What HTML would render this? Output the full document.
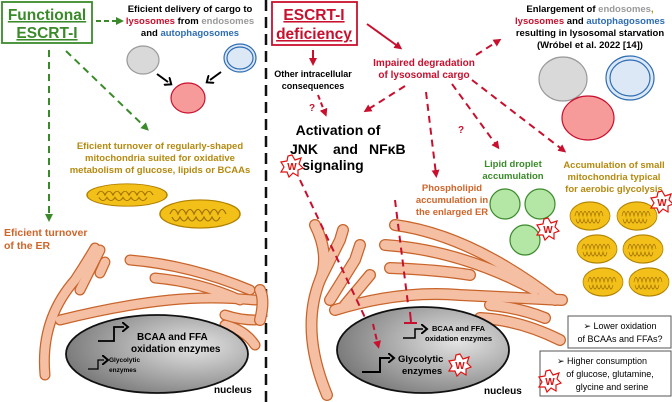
<!DOCTYPE html>
<html><head><meta charset="utf-8"><style>
body{margin:0;background:#fff}
svg{display:block;font-family:"Liberation Sans",sans-serif;font-weight:bold}
</style></head><body>
<svg width="672" height="402" viewBox="0 0 672 402" xmlns="http://www.w3.org/2000/svg">
<defs>
<marker id="ag" markerUnits="userSpaceOnUse" markerWidth="8" markerHeight="8" refX="4" refY="4" orient="auto"><path d="M0,0L8,4L0,8z" fill="#3a8a2a"/></marker>
<marker id="ar" markerUnits="userSpaceOnUse" markerWidth="8" markerHeight="8" refX="4" refY="4" orient="auto"><path d="M0,0L8,4L0,8z" fill="#c8102e"/></marker>
<marker id="ak" markerUnits="userSpaceOnUse" markerWidth="8" markerHeight="8" refX="4" refY="4" orient="auto"><path d="M0,0L8,4L0,8z" fill="#000"/></marker>
<marker id="aks" markerUnits="userSpaceOnUse" markerWidth="10" markerHeight="10" refX="2" refY="5" orient="auto"><path d="M0,0L6,5L0,10" fill="none" stroke="#000" stroke-width="2"/></marker>
<radialGradient id="nuc" cx="0.7" cy="0.4" r="0.8"><stop offset="0" stop-color="#e4e4e4"/><stop offset="1" stop-color="#6e6e6e"/></radialGradient>
<g id="mito"><ellipse cx="0" cy="0" rx="40" ry="18" fill="#f2c018" stroke="#b08000" stroke-width="1.5"/><path d="M-30,0 q4,-12 8,0 q4,-12 8,0 q4,-12 8,0 q4,-12 8,0 q4,-12 8,0 q4,-12 8,0 q4,-12 8,0 M-28,4 q4,10 8,0 q4,10 8,0 q4,10 8,0 q4,10 8,0 q4,10 8,0 q4,10 8,0" fill="none" stroke="#a07000" stroke-width="1.3"/></g>
<g id="w"><polygon points="0,-11 3,-6 9,-8 7,-2 11,2 6,4 6,10 1,7 -3,11 -5,6 -11,6 -8,1 -11,-4 -5,-5 -4,-10" fill="#fff" stroke="#e01010" stroke-width="1.2"/><text x="0" y="4" font-size="10" fill="#e01010" text-anchor="middle">W</text></g>
</defs>

<line x1="266" y1="0" x2="266" y2="402" stroke="#111" stroke-width="2.5" stroke-dasharray="11,6"/>

<!-- Left header -->
<rect x="2" y="2" width="90" height="41" fill="#fff" stroke="#3a8a2a" stroke-width="1.8"/>
<text x="47" y="20" font-size="15.5" fill="#3a8a2a" text-anchor="middle" text-decoration="underline">Functional</text>
<text x="47" y="38" font-size="15.5" fill="#3a8a2a" text-anchor="middle" text-decoration="underline">ESCRT-I</text>
<line x1="96" y1="21" x2="120" y2="21" stroke="#3a8a2a" stroke-width="2" stroke-dasharray="5,3" marker-end="url(#ag)"/>
<g font-size="9.5" text-anchor="middle">
<text x="190" y="12">Eficient delivery of cargo to</text>
<text x="190" y="24"><tspan fill="#c8102e">lysosomes</tspan> from <tspan fill="#999">endosomes</tspan></text>
<text x="190" y="36">and <tspan fill="#2e6db4">autophagosomes</tspan></text>
</g>
<ellipse cx="143" cy="60" rx="16" ry="14" fill="#d9d9d9" stroke="#999" stroke-width="1.2"/>
<ellipse cx="240" cy="58" rx="16" ry="14" fill="#dce8f6" stroke="#2e6db4" stroke-width="1.2"/>
<ellipse cx="240" cy="58" rx="13" ry="11" fill="none" stroke="#2e6db4" stroke-width="1.2"/>
<ellipse cx="188" cy="98" rx="17" ry="15" fill="#f79a9a" stroke="#c8102e" stroke-width="1.2"/>
<line x1="157" y1="74" x2="168" y2="82" stroke="#000" stroke-width="2" marker-end="url(#aks)"/>
<line x1="221" y1="72" x2="210" y2="80" stroke="#000" stroke-width="2" marker-end="url(#aks)"/>
<line x1="66" y1="51" x2="146" y2="128" stroke="#3a8a2a" stroke-width="2" stroke-dasharray="7,5" marker-end="url(#ag)"/>
<line x1="49" y1="50" x2="49" y2="218" stroke="#3a8a2a" stroke-width="2" stroke-dasharray="7,5" marker-end="url(#ag)"/>
<g font-size="9.5" fill="#b58a10" text-anchor="middle">
<text x="160" y="149">Eficient turnover of regularly-shaped</text>
<text x="160" y="161">mitochondria suited for oxidative</text>
<text x="160" y="173">metabolism of glucose, lipids or BCAAs</text>
</g>
<g transform="translate(127,195) scale(1,0.62)"><use href="#mito"/></g>
<g transform="translate(200,214) scale(1,0.78)"><use href="#mito"/></g>
<g font-size="10.5" fill="#d0652a"><text x="4" y="236">Eficient turnover</text><text x="4" y="249">of the ER</text></g>

<!-- Left ER -->
<g fill="none" stroke-linecap="round" stroke-linejoin="round">
<g stroke="#c8642a" stroke-width="11">
<path d="M45,375 Q40,320 75,280 Q85,265 95,248"/><path d="M80,290 L95,260 L100,250"/><path d="M100,273 L105,262"/>
<path d="M60,320 Q120,305 170,300 Q210,296 255,300"/><path d="M130,260 Q190,265 250,290"/><path d="M155,278 Q200,282 240,300"/><path d="M225,325 Q245,330 255,345"/><path d="M225,315 Q240,320 255,320"/>
</g>
<g stroke="#f5bfa3" stroke-width="8.5">
<path d="M45,375 Q40,320 75,280 Q85,265 95,248"/><path d="M80,290 L95,260 L100,250"/><path d="M100,273 L105,262"/>
<path d="M60,320 Q120,305 170,300 Q210,296 255,300"/><path d="M130,260 Q190,265 250,290"/><path d="M155,278 Q200,282 240,300"/><path d="M225,325 Q245,330 255,345"/><path d="M225,315 Q240,320 255,320"/>
</g>
</g>
<ellipse cx="157" cy="354" rx="91" ry="39" fill="url(#nuc)" stroke="#111" stroke-width="1.8"/>
<path d="M98,341 h16 v-14 h10" fill="none" stroke="#000" stroke-width="1.8" marker-end="url(#aks)"/>
<text x="137" y="340" font-size="10">BCAA and FFA</text>
<text x="131" y="352" font-size="10">oxidation enzymes</text>
<path d="M88,369 h10 v-9 h6" fill="none" stroke="#000" stroke-width="1.3" marker-end="url(#aks)"/>
<text x="109" y="362" font-size="6.5">Glycolytic</text>
<text x="109" y="372" font-size="6.5">enzymes</text>
<text x="214" y="393" font-size="10">nucleus</text>

<!-- Right header -->
<rect x="272" y="2" width="85" height="43" fill="#fff" stroke="#c8102e" stroke-width="1.8"/>
<text x="314" y="20" font-size="15.5" fill="#c8102e" text-anchor="middle" text-decoration="underline">ESCRT-I</text>
<text x="314" y="39" font-size="15.5" fill="#c8102e" text-anchor="middle" text-decoration="underline">deficiency</text>
<line x1="313" y1="50" x2="313" y2="62" stroke="#c8102e" stroke-width="2" marker-end="url(#ar)"/>
<line x1="367" y1="24" x2="399" y2="47" stroke="#c8102e" stroke-width="2" marker-end="url(#ar)"/>
<g font-size="9" text-anchor="middle"><text x="313" y="77">Other intracellular</text><text x="313" y="89">consequences</text></g>
<text x="309" y="111" font-size="10" fill="#c8102e">?</text>
<line x1="318" y1="95" x2="325" y2="113" stroke="#c8102e" stroke-width="2" stroke-dasharray="5,3" marker-end="url(#ar)"/>
<g font-size="10" fill="#c8102e" text-anchor="middle"><text x="424" y="66">Impaired degradation</text><text x="424" y="78">of lysosomal cargo</text></g>
<g font-size="14"><text x="338" y="135" text-anchor="middle">Activation of</text><text x="290" y="154">JNK</text><text x="333" y="154">and</text><text x="369" y="154">NFκB</text><text x="333" y="170" text-anchor="middle">signaling</text></g>
<use href="#w" x="292" y="166"/>
<g fill="none" stroke="#c8102e" stroke-width="2" stroke-dasharray="7,5">
<line x1="476" y1="55" x2="498" y2="41" marker-end="url(#ar)"/>
<line x1="405" y1="86" x2="367" y2="110" marker-end="url(#ar)"/>
<line x1="426" y1="92" x2="436" y2="174" marker-end="url(#ar)"/>
<line x1="452" y1="84" x2="497" y2="146" marker-end="url(#ar)"/>
<line x1="472" y1="80" x2="563" y2="150" marker-end="url(#ar)"/>
</g>
<text x="458" y="133" font-size="10" fill="#c8102e">?</text>
<g font-size="9.5" text-anchor="middle">
<text x="590" y="12">Enlargement of <tspan fill="#999">endosomes</tspan><tspan fill="#b58a10">,</tspan></text>
<text x="590" y="24"><tspan fill="#c8102e">lysosomes</tspan> and <tspan fill="#2e6db4">autophagosomes</tspan></text>
<text x="590" y="36">resulting in lysosomal starvation</text>
<text x="590" y="48">(Wróbel et al. 2022 [14])</text>
</g>
<ellipse cx="563" cy="79" rx="24" ry="22" fill="#d9d9d9" stroke="#999" stroke-width="1.2"/>
<ellipse cx="630" cy="78" rx="24" ry="22" fill="#dce8f6" stroke="#2e6db4" stroke-width="1.2"/>
<ellipse cx="630" cy="78" rx="20" ry="18" fill="none" stroke="#2e6db4" stroke-width="1.2"/>
<ellipse cx="588" cy="118" rx="26" ry="22" fill="#f79a9a" stroke="#c8102e" stroke-width="1.2"/>
<g font-size="9.5" fill="#3a8a2a" text-anchor="middle"><text x="513" y="167">Lipid droplet</text><text x="513" y="179">accumulation</text></g>
<g fill="#b4e6a6" stroke="#3a8a2a" stroke-width="1.2"><circle cx="505" cy="204" r="15"/><circle cx="540" cy="204" r="15"/><circle cx="525" cy="240" r="15"/></g>
<use href="#w" x="548" y="229"/>
<g font-size="9.5" fill="#b58a10" text-anchor="middle"><text x="614" y="168">Accumulation of small</text><text x="614" y="180">mitochondria typical</text><text x="614" y="192">for aerobic glycolysis</text></g>
<g transform="translate(590,216) scale(0.5,0.78)"><use href="#mito"/></g>
<g transform="translate(637,216) scale(0.5,0.78)"><use href="#mito"/></g>
<g transform="translate(597,249) scale(0.5,0.78)"><use href="#mito"/></g>
<g transform="translate(643,249) scale(0.5,0.78)"><use href="#mito"/></g>
<g transform="translate(603,282) scale(0.5,0.78)"><use href="#mito"/></g>
<g transform="translate(649,282) scale(0.5,0.78)"><use href="#mito"/></g>
<use href="#w" x="662" y="202"/>
<g font-size="9.5" fill="#d0652a" text-anchor="middle"><text x="452" y="191">Phospholipid</text><text x="452" y="203">accumulation in</text><text x="452" y="215">the enlarged ER</text></g>

<!-- Right ER -->
<g fill="none" stroke-linecap="round" stroke-linejoin="round">
<g stroke="#c8642a" stroke-width="12">
<path d="M327,395 Q300,330 320,280 Q330,255 315,225"/><path d="M320,280 L340,240 L343,230"/><path d="M330,300 L355,260 L360,245"/><path d="M345,305 L370,275"/>
<path d="M260,290 Q265,300 260,320"/>
<path d="M335,310 Q400,290 460,295 Q520,298 562,300"/><path d="M395,225 Q470,235 555,300"/><path d="M385,245 Q460,250 535,290"/><path d="M390,268 Q440,270 470,275"/><path d="M480,318 Q520,320 560,340"/><path d="M490,305 Q520,308 545,318"/>
</g>
<g stroke="#f5bfa3" stroke-width="9.5">
<path d="M327,395 Q300,330 320,280 Q330,255 315,225"/><path d="M320,280 L340,240 L343,230"/><path d="M330,300 L355,260 L360,245"/><path d="M345,305 L370,275"/>
<path d="M260,290 Q265,300 260,320"/>
<path d="M335,310 Q400,290 460,295 Q520,298 562,300"/><path d="M395,225 Q470,235 555,300"/><path d="M385,245 Q460,250 535,290"/><path d="M390,268 Q440,270 470,275"/><path d="M480,318 Q520,320 560,340"/><path d="M490,305 Q520,308 545,318"/>
</g>
</g>
<line x1="300" y1="180" x2="378" y2="345" stroke="#c8102e" stroke-width="2" stroke-dasharray="7,5"/>
<line x1="395" y1="200" x2="410" y2="320" stroke="#c8102e" stroke-width="2" stroke-dasharray="7,5"/>
<ellipse cx="423" cy="350" rx="86" ry="43" fill="url(#nuc)" stroke="#111" stroke-width="1.8"/>
<line x1="373" y1="324" x2="378" y2="345" stroke="#c8102e" stroke-width="2" stroke-dasharray="6,4" marker-end="url(#ar)"/>
<line x1="410" y1="312" x2="411" y2="322" stroke="#c8102e" stroke-width="2"/>
<line x1="404" y1="323" x2="417" y2="323" stroke="#c8102e" stroke-width="2"/>
<path d="M403,338 h12 v-9 h8" fill="none" stroke="#000" stroke-width="1.5" marker-end="url(#aks)"/>
<text x="432" y="331" font-size="7.5">BCAA and FFA</text>
<text x="425" y="341" font-size="7.5">oxidation enzymes</text>
<path d="M362,372 h18 v-14 h10" fill="none" stroke="#000" stroke-width="2" marker-end="url(#aks)"/>
<text x="398" y="362" font-size="9.5">Glycolytic</text>
<text x="402" y="374" font-size="9.5">enzymes</text>
<use href="#w" x="460" y="365"/>
<text x="484" y="394" font-size="10">nucleus</text>

<rect x="568" y="316" width="103" height="32" fill="#fff" stroke="#555" stroke-width="1"/>
<g font-size="9" font-weight="normal" text-anchor="middle"><text x="620" y="329">➢ Lower oxidation</text><text x="620" y="342">of BCAAs and FFAs?</text></g>
<rect x="540" y="351" width="131" height="45" fill="#fff" stroke="#555" stroke-width="1"/>
<g font-size="9" font-weight="normal" text-anchor="middle"><text x="602" y="364">➢ Higher consumption</text><text x="610" y="377">of glucose, glutamine,</text><text x="612" y="390">glycine and serine</text></g>
<use href="#w" x="550" y="381"/>
</svg>
</body></html>
